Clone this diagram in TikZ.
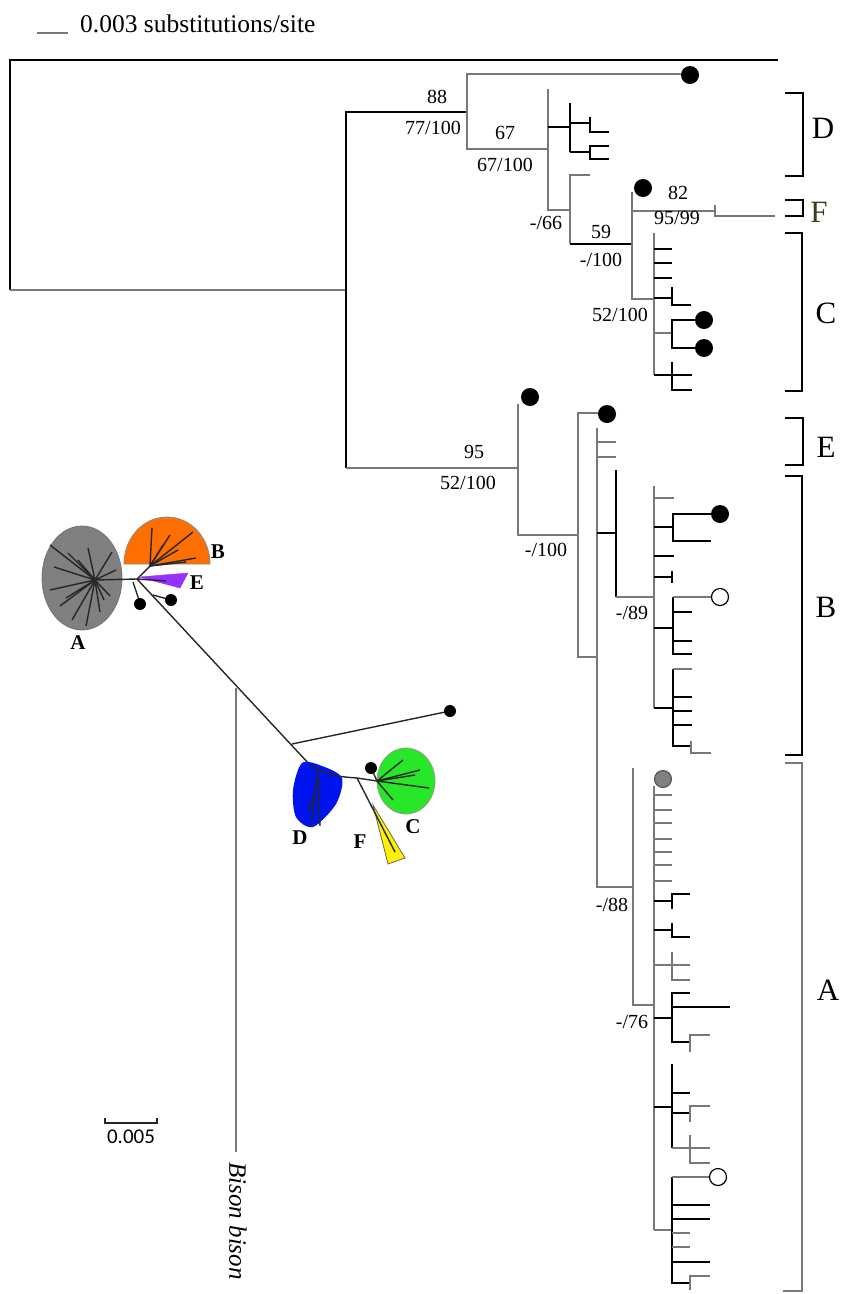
\documentclass[tikz,border=0pt]{standalone}
\usepackage{fontspec}
\setmainfont{Liberation Serif}
\newfontfamily\scalesans{Carlito}
\usetikzlibrary{positioning,calc}
\definecolor{brGray}{RGB}{120,120,120}
\definecolor{cladeA}{RGB}{128,128,128}
\definecolor{cladeB}{RGB}{255,110,0}
\definecolor{cladeC}{RGB}{40,230,40}
\definecolor{cladeD}{RGB}{0,20,240}
\definecolor{cladeE}{RGB}{150,50,255}
\definecolor{cladeF}{RGB}{255,240,0}
\definecolor{fOlive}{RGB}{60,60,25}

\begin{document}
\begin{tikzpicture}[x=1pt,y=-1pt,
    br/.style={line width=1.6pt,brGray},
    bk/.style={line width=1.6pt,black},
    ub/.style={line width=1.4pt,black!85},
    boot/.style={font=\fontsize{20}{20}\selectfont,inner sep=0pt},
    cladelbl/.style={font=\fontsize{31}{31}\selectfont,inner sep=0pt},
    ulbl/.style={font=\fontsize{21}{21}\selectfont\bfseries,inner sep=0pt},
    tipdot/.style={circle,fill=black,minimum size=18pt,inner sep=0pt},
    tipopen/.style={circle,draw=black,fill=white,line width=1.2pt,minimum size=17pt,inner sep=0pt},
    tipgray/.style={circle,draw=black!70,fill=gray,line width=1pt,minimum size=17pt,inner sep=0pt},
    udot/.style={circle,fill=black,minimum size=12pt,inner sep=0pt}]
  \useasboundingbox (0,0) rectangle (847,1294);

  % scale of the rooted tree
  \draw[br] (37,33) -- (68,33);
  \node[anchor=west,font=\fontsize{25.5}{25.5}\selectfont,inner sep=0pt] (scaletxt) at (80,24) {0.003 substitutions/site};

  % root and outgroup
  \draw[bk] (778,60) -- (10,60) -- (10,290);
  \draw[br] (10,290) -- (346,290);
  \draw[bk] (467,112) -- (346,112) -- (346,468);
  \draw[br] (346,468) -- (518,468);
  \node[boot] (b88) at (437,97) {88};
  \node[boot] (b77) at (433,128) {77/100};
  \node[boot] (b95) at (474,452) {95};
  \node[boot] (b52a) at (468,483) {52/100};

  % clades D, F, C
  \draw[br] (681,74) -- (467,74) -- (467,149) -- (548,149);
  \node[tipdot] (dotD) at (690,75) {};
  \node[boot] (b67) at (505,133) {67};
  \node[boot] (b67b) at (505,165) {67/100};
  \draw[br] (548,89) -- (548,210) -- (570,210);
  \draw[bk] (548,127) -- (570,127);
  \draw[bk] (570,103) -- (570,152);
  \draw[bk] (570,123) -- (590,123) (590,117) -- (590,132) -- (609,132);
  \draw[bk] (570,152) -- (590,152) (609,146) -| (590,159) -- (609,159);
  \node[boot] (b66) at (546,223) {-/66};
  \draw[br] (590,175) -- (570,175) -- (570,244);
  \draw[bk] (570,244) -- (632,244);
  \node[boot] (b59) at (601,232) {59};
  \node[boot] (b100a) at (601,260) {-/100};
  \draw[br] (632,192) -- (632,299) -- (654,299);
  \node[tipdot] (dotF) at (643,188) {};
  \draw[br] (632,211) -- (715,211) (715,205) -- (715,216) -- (775,216);
  \node[boot] (b82) at (678,193) {82};
  \node[boot] (b95b) at (677,218) {95/99};
  \node[boot] (b52b) at (620,315) {52/100};
  \draw[br] (654,233) -- (654,375);
  \foreach \y in {249,263,278}
    \draw[bk] (654,\y) -- (672,\y);
  \draw[bk] (654,298) -- (672,298) (672,287) -- (672,305) -- (691,305);
  \draw[br] (654,333) -- (672,333);
  \draw[bk] (697,320) -| (672,348) -- (697,348);
  \node[tipdot] (dotC1) at (704,320) {};
  \node[tipdot] (dotC2) at (704,348) {};
  \draw[bk] (654,375) -- (692,375) (672,362) -- (672,390) -- (692,390);

  % clades E, B, A
  \draw[br] (518,404) -- (518,535) -- (578,535);
  \node[tipdot] (dotE1) at (530,397) {};
  \node[boot] (b100b) at (546,550) {-/100};
  \draw[br] (600,413) -- (578,413) -- (578,657) -- (597,657);
  \node[tipdot] (dotE2) at (607,414) {};
  \draw[br] (597,428) -- (597,887) -- (633,887);
  \foreach \y in {442,457}
    \draw[br] (597,\y) -- (616,\y);
  \draw[bk] (597,533) -- (616,533) (616,470) -- (616,597);
  \draw[br] (616,597) -- (654,597);
  \node[boot] (b89) at (632,613) {-/89};
  \draw[br] (654,486) -- (654,708);
  \draw[br] (654,498) -- (674,498);
  \draw[bk] (654,527) -- (673,527) (712,514) -| (673,541) -- (711,541);
  \node[tipdot] (dotB) at (720,514) {};
  \draw[bk] (654,556) -- (674,556) (654,577) -- (672,577) (672,571) -- (672,583);
  \draw[bk] (654,628) -- (673,628) (673,597) -- (673,654) -- (692,654);
  \draw[br] (673,597) -- (712,597);
  \node[tipopen] (openB) at (720,597) {};
  \foreach \y in {612,641}
    \draw[bk] (673,\y) -- (692,\y);
  \draw[bk] (654,708) -- (673,708) (673,669) -- (673,746) -- (691,746);
  \draw[br] (673,669) -- (692,669);
  \foreach \y in {697,711,725}
    \draw[bk] (673,\y) -- (692,\y);
  \draw[br] (691,741) -- (691,753) -- (711,753);
  \draw[br] (633,768) -- (633,1005) -- (654,1005);
  \node[boot] (b88b) at (612,905) {-/88};
  \draw[br] (654,786) -- (654,1230);
  \node[tipgray] (grayA) at (663,779) {};
  \foreach \y in {795,810,823,839,852,865,881}
    \draw[br] (654,\y) -- (672,\y);
  \draw[bk] (654,901) -- (672,901) (690,894) -| (672,909);
  \draw[bk] (654,930) -- (672,930) (672,923) -- (672,937) -- (690,937);
  \draw[br] (654,965) -- (690,965) (672,952) -- (672,980) -- (690,980);
  \draw[bk] (654,1018) -- (672,1018) (690,993) -| (672,1042) -- (690,1042);
  \draw[bk] (672,1007) -- (730,1007);
  \draw[br] (690,1052) -- (690,1035) -- (710,1035);
  \node[boot] (b76) at (632,1022) {-/76};
  \draw[bk] (654,1107) -- (672,1107) (672,1064) -- (672,1148) (672,1093) -- (690,1093) (672,1113) -- (690,1113);
  \draw[br] (690,1122) -- (690,1106) -- (710,1106) (672,1148) -- (710,1148) (690,1135) -- (690,1163) -- (710,1163);
  \draw[br] (654,1230) -- (672,1230);
  \draw[bk] (672,1177) -- (672,1283) -- (690,1283);
  \draw[br] (672,1177) -- (710,1177);
  \node[tipopen] (openA) at (718,1177) {};
  \foreach \y in {1205,1219,1262}
    \draw[bk] (672,\y) -- (710,\y);
  \foreach \y in {1233,1247}
    \draw[br] (672,\y) -- (690,\y);
  \draw[br] (690,1290) -- (690,1276) -- (710,1276);

  % clade brackets
  \draw[bk] (785,93) -- (803,93) -- (803,176) -- (785,176);
  \node[cladelbl] (labD) at (823,128) {D};
  \draw[bk] (785,200) -- (803,200) -- (803,216) -- (785,216);
  \node[cladelbl,text=fOlive] (labF) at (819,212) {F};
  \draw[bk] (785,233) -- (802,233) -- (802,391) -- (785,391);
  \node[cladelbl] (labC) at (826,313) {C};
  \draw[bk] (785,418) -- (803,418) -- (803,465) -- (785,465);
  \node[cladelbl] (labE) at (826,447) {E};
  \draw[bk] (785,476) -- (802,476) -- (802,755) -- (785,755);
  \node[cladelbl] (labB) at (826,607) {B};
  \draw[br] (785,763) -- (802,763) -- (802,1291) -- (783,1291);
  \node[cladelbl] (labA) at (828,990) {A};

  % unrooted tree
  \coordinate (hub) at (137,579);
  \coordinate (nA) at (95,580);
  \coordinate (nD) at (310,765);
  \coordinate (nF) at (357,778);
  \coordinate (nC) at (377,781);
  \filldraw[fill=cladeA,draw=black!55,line width=0.8pt] (82,578) ellipse (40pt and 52pt);
  \foreach \p in {(50,545),(68,553),(54,567),(50,590),(60,606),(72,620),(86,626),(100,612),(110,596),(116,570),(112,552),(88,548),(104,600),(78,560),(66,598)}
    \draw[ub] (nA) -- \p;
  \draw[ub] (nA) -- (hub);
  \filldraw[fill=cladeB,draw=black!45,line width=0.8pt] (124,564) .. controls (124,538) and (143,517) .. (167,517)
    .. controls (191,517) and (210,538) .. (210,564) -- cycle;
  \foreach \p in {(152,528),(193,532),(178,550),(196,558),(163,545),(186,562),(170,535)}
    \draw[ub] (150,566) -- \p;
  \draw[ub] (hub) -- (150,566);
  \filldraw[fill=cladeE,draw=cladeE] (139,577) -- (188,573) -- (180,588) -- cycle;
  \draw[ub] (hub) -- (166,581);
  \draw[ub] (133,582) -- (140,603);
  \node[udot] (dotU1) at (140,604) {};
  \draw[ub] (153,595) -- (171,600);
  \node[udot] (dotU2) at (171,600) {};
  \draw[ub] (hub) -- (nD);
  \draw[ub] (292,744) -- (450,711);
  \node[udot] (dotU3) at (450,711) {};
  \draw[br,line width=1.3pt] (236,688) -- (236,1152);
  \node[rotate=-90,font=\fontsize{25}{25}\selectfont\itshape,inner sep=0pt] (bison) at (238,1221) {Bison bison};
  \fill[cladeD] plot[smooth cycle] coordinates {(302,763)(322,766)(342,778)(336,804)(313,827)(296,817)(293,790)};
  \draw[ub] (318,770) -- (311,826) (318,776) -- (320,826) (316,790) -- (308,812);
  \draw[ub] (nD) .. controls (330,777) and (345,777) .. (nF) -- (nC);
  \filldraw[fill=cladeC,draw=black!40,line width=0.8pt] (406,781) ellipse (29pt and 33pt);
  \foreach \p in {(403,760),(415,775),(429,788),(393,800),(420,770)}
    \draw[ub] (nC) -- \p;
  \draw[ub] (nC) -- (372,770);
  \node[udot] (dotU4) at (371,768) {};
  \filldraw[fill=cladeF,draw=black!60,line width=0.8pt] (373,805) -- (388,864) -- (405,858) -- cycle;
  \draw[ub] (nF) -- (395,852);
  \node[ulbl] (uA) at (78,643) {A};
  \node[ulbl] (uB) at (218,552) {B};
  \node[ulbl] (uE) at (197,583) {E};
  \node[ulbl] (uD) at (300,838) {D};
  \node[ulbl] (uF) at (360,842) {F};
  \node[ulbl] (uC) at (413,827) {C};

  % scale of the unrooted tree
  \draw[ub] (105,1118) -- (105,1123) -- (157,1123) -- (157,1118);
  \node[font=\fontsize{21}{21}\selectfont\scalesans,inner sep=0pt] (scaleU) at (131,1137) {0.005};
\end{tikzpicture}
\end{document}
